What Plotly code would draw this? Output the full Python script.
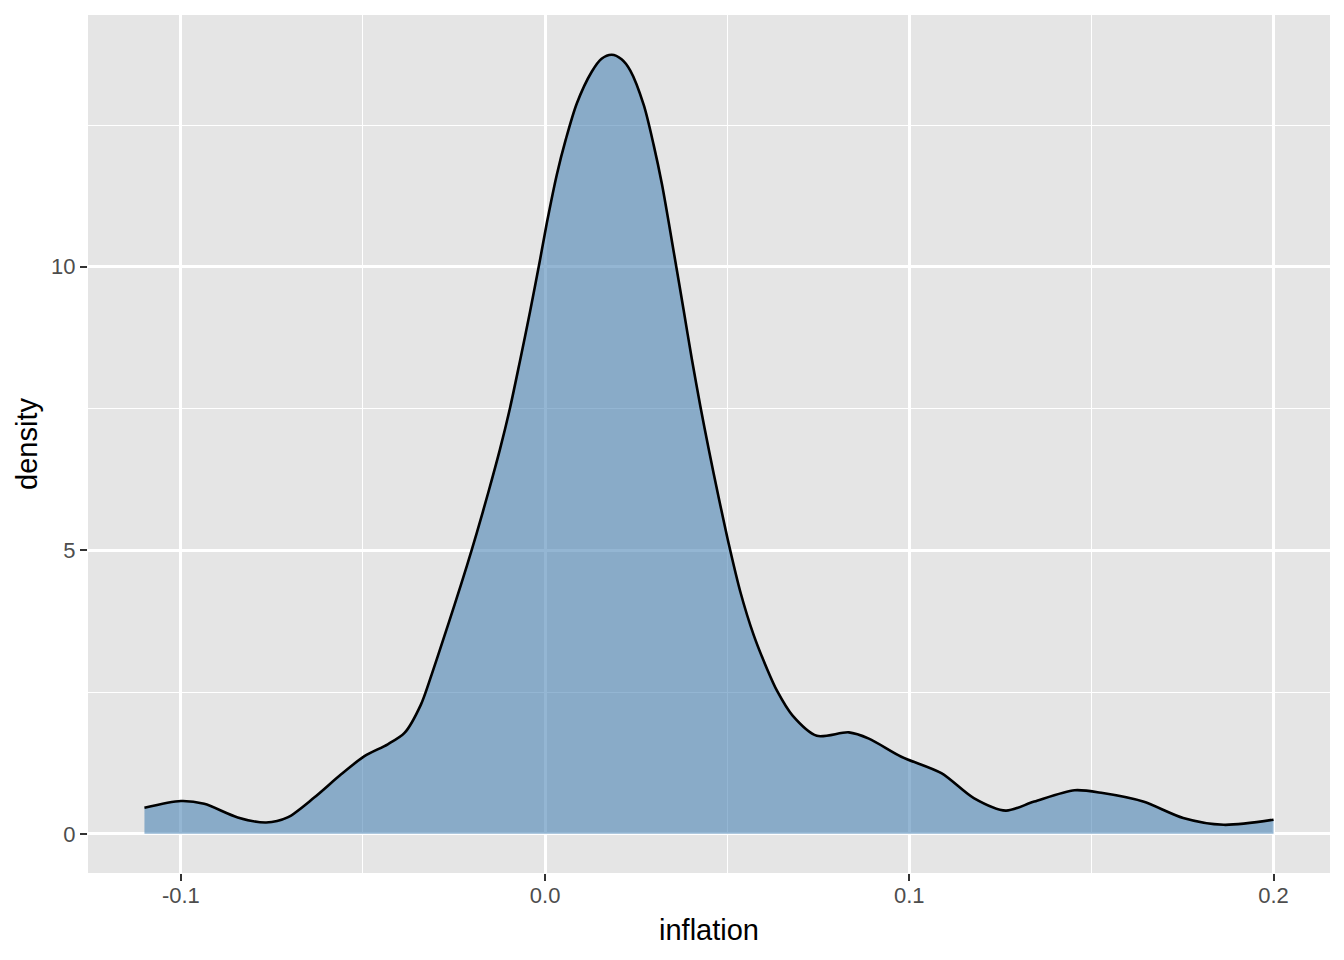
import plotly.graph_objects as go

# Density curve
inflation = [-0.11, -0.1, -0.0936, -0.0844, -0.0766, -0.0707, -0.0634, -0.056, -0.0496, -0.0432,
             -0.0386, -0.0341, -0.0312, -0.028, -0.0248, -0.0215, -0.0188, -0.0156, -0.0124, -0.0096,
             -0.0069, -0.0041, -0.0014, 0.0005, 0.0032, 0.0057, 0.0087, 0.0128, 0.0155, 0.0183,
             0.021, 0.0234, 0.0271, 0.0298, 0.0321, 0.0357, 0.038, 0.0403, 0.0426, 0.0449,
             0.0477, 0.0504, 0.0536, 0.0573, 0.061, 0.0637, 0.0679, 0.0746, 0.0834, 0.0889,
             0.0978, 0.1088, 0.1177, 0.1265, 0.1343, 0.1454, 0.1531, 0.1642, 0.1752, 0.1863, 0.2]
density = [0.46, 0.58, 0.53, 0.29, 0.20, 0.29, 0.64, 1.05, 1.37, 1.58,
           1.78, 2.28, 2.80, 3.42, 4.05, 4.72, 5.30, 6.02, 6.78, 7.52,
           8.34, 9.22, 10.12, 10.78, 11.62, 12.25, 12.88, 13.44, 13.67, 13.74,
           13.66, 13.46, 12.85, 12.15, 11.45, 10.12, 9.25, 8.37, 7.55, 6.79,
           5.92, 5.12, 4.27, 3.50, 2.90, 2.52, 2.09, 1.73, 1.79, 1.68,
           1.36, 1.07, 0.63, 0.41, 0.57, 0.77, 0.72, 0.57, 0.28, 0.16, 0.25]

x_tickvals = [-0.1, 0.0, 0.1, 0.2]
x_ticktext = ["-0.1", "0.0", "0.1", "0.2"]
y_tickvals = [0, 5, 10]
y_ticktext = ["0", "5", "10"]

FONT = "Liberation Sans, Arial, sans-serif"

fig = go.Figure()
fig.add_trace(go.Scatter(
    x=inflation, y=density, mode="lines",
    line=dict(color="black", width=2.6, shape="spline", smoothing=0.8),
    fill="tozeroy", fillcolor="rgba(70,130,180,0.58)",
    showlegend=False, hoverinfo="skip",
))

axis_common = dict(
    showline=False, zeroline=False,
    showgrid=True, gridcolor="white", gridwidth=2.6,
    ticks="outside", ticklen=7, tickwidth=2, tickcolor="#333333",
    tickfont=dict(family=FONT, size=22, color="#4D4D4D"),
)

fig.update_layout(
    width=1344, height=960,
    margin=dict(l=80, r=22, t=7, b=95, autoexpand=False),
    paper_bgcolor="white", plot_bgcolor="#E5E5E5",
    xaxis=dict(
        range=[-0.1255, 0.2155],
        tickvals=x_tickvals, ticktext=x_ticktext,
        ticklabelstandoff=-4,
        minor=dict(tickvals=[-0.05, 0.05, 0.15], showgrid=True, gridcolor="white", gridwidth=1.3, ticks=""),
        title=dict(text="inflation", font=dict(family=FONT, size=29, color="black"), standoff=12),
        automargin=False,
        **axis_common,
    ),
    yaxis=dict(
        range=[-0.69, 14.44],
        tickvals=y_tickvals, ticktext=y_ticktext,
        minor=dict(tickvals=[2.5, 7.5, 12.5], showgrid=True, gridcolor="white", gridwidth=1.3, ticks=""),
        title=dict(text="density", font=dict(family=FONT, size=29, color="black"), standoff=4),
        automargin=False,
        **axis_common,
    ),
)

fig.write_html("out.html")
